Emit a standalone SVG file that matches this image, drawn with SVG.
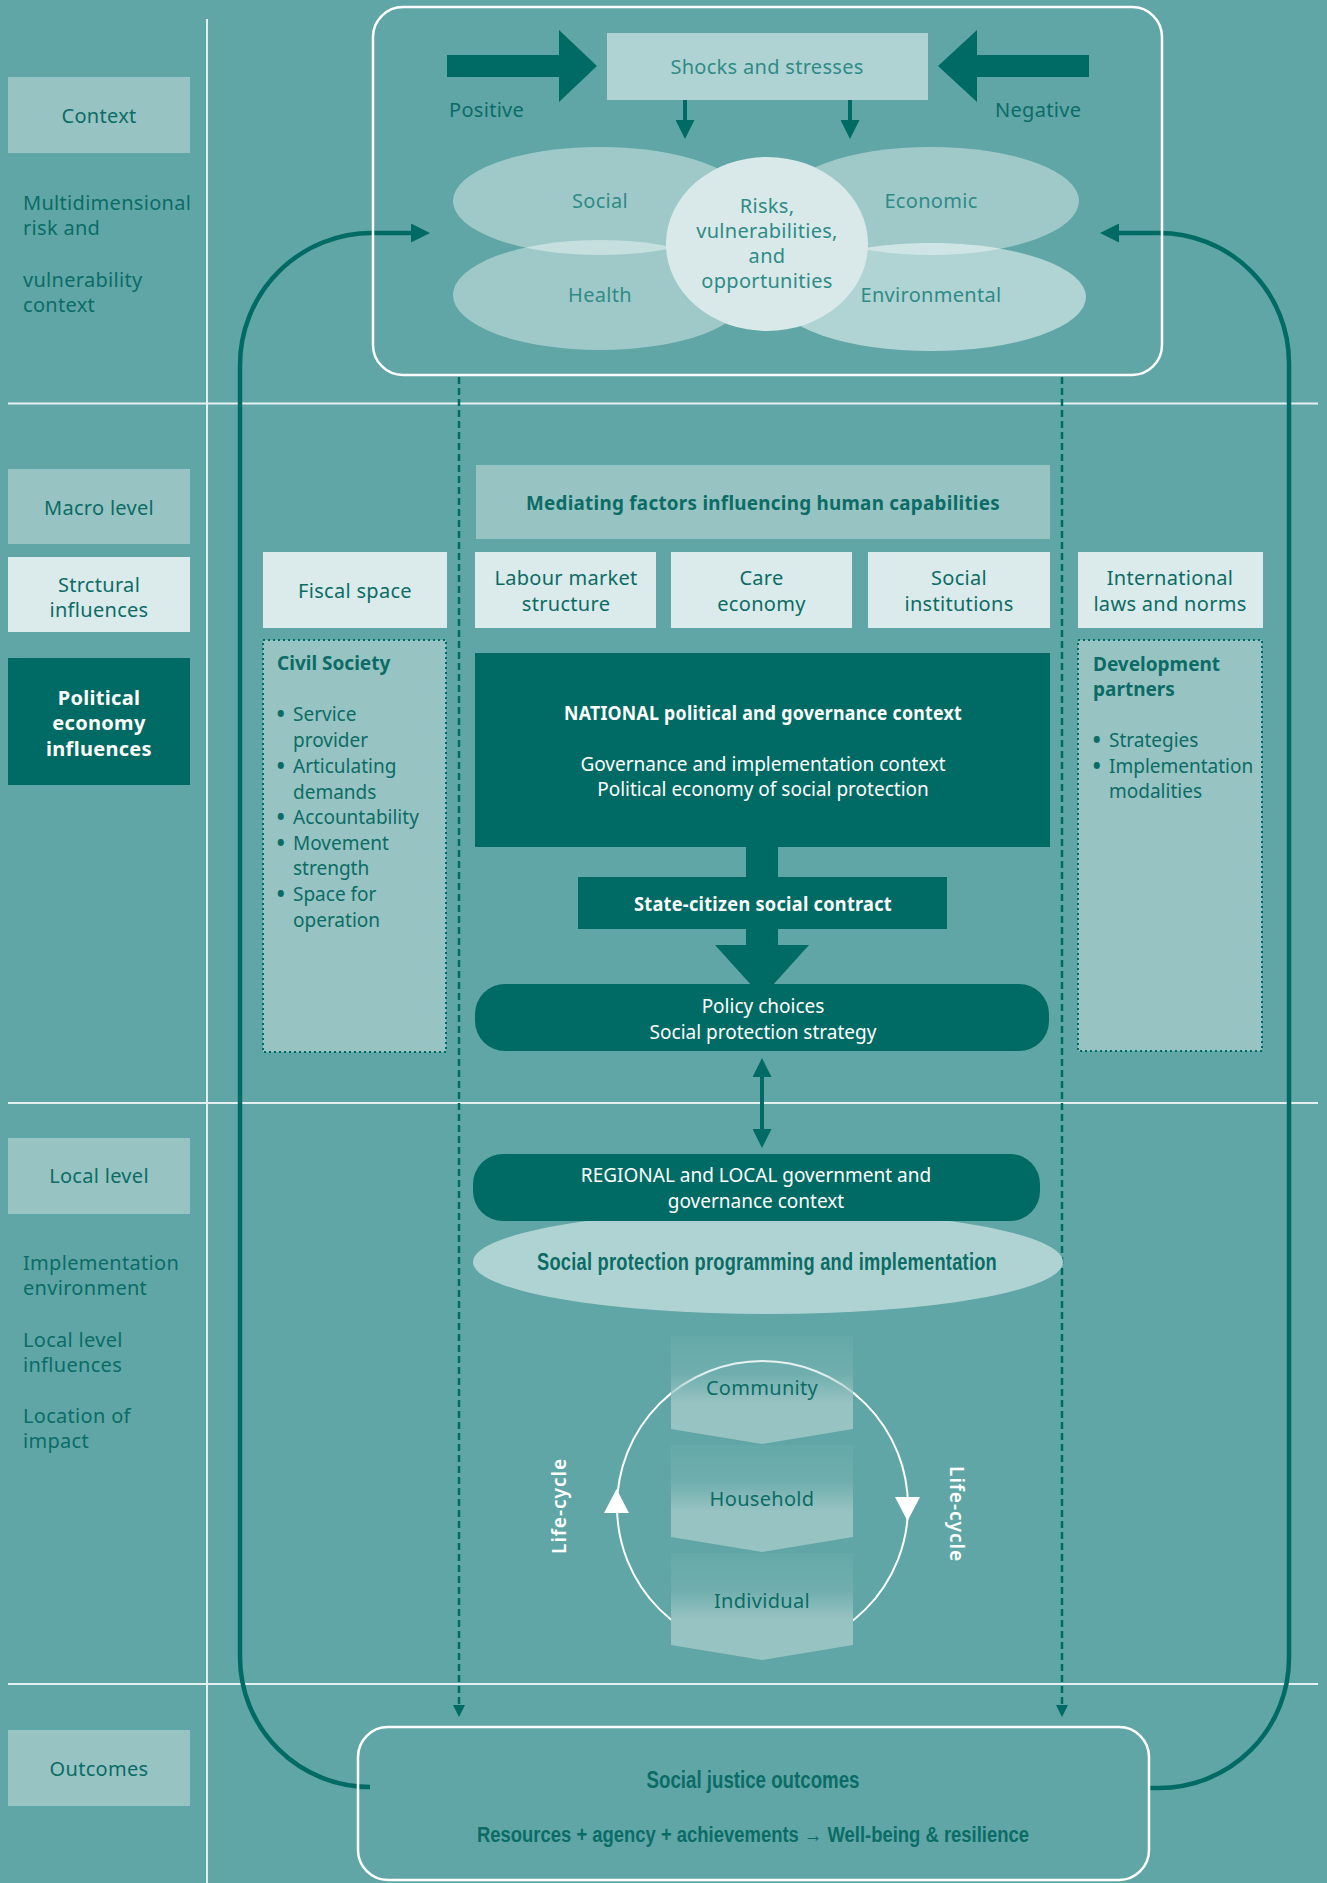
<svg xmlns="http://www.w3.org/2000/svg" width="1327" height="1883" viewBox="0 0 1327 1883">
<defs>
<style>
.t{font-family:"Noto Sans","Open Sans","DejaVu Sans",sans-serif;font-size:20px;letter-spacing:0.3px}
.s{font-size:19px;letter-spacing:0}
.dk{fill:#0b6c66}
.md{fill:#2f8b86}
.wh{fill:#ffffff}
.b{font-weight:bold}
.c{text-anchor:middle}
.bu{font-weight:900}
.n{font-family:"Liberation Sans",Arial,sans-serif;font-weight:bold;fill:#0b6c66;text-anchor:middle}
.lite{fill:#97c3c2}
.pale{fill:#dbeaea}
.dark{fill:#006b64}
.dots{fill:#97c3c2;stroke:#006b64;stroke-width:2;stroke-dasharray:2 3}
.sep{stroke:#e4efef;stroke-width:2}
.loop{fill:none;stroke:#006b64;stroke-width:4.5}
.dash{fill:none;stroke:#006b64;stroke-width:2.5;stroke-dasharray:7 4}
.solid{fill:none;stroke:#006b64;stroke-width:4}
.ell{fill:#ffffff}
</style>
<linearGradient id="chev" x1="0" y1="0" x2="0" y2="1">
<stop offset="0" stop-color="#97c3c2" stop-opacity="0.1"/>
<stop offset="0.35" stop-color="#97c3c2" stop-opacity="0.28"/>
<stop offset="0.62" stop-color="#97c3c2" stop-opacity="1"/>
<stop offset="1" stop-color="#97c3c2" stop-opacity="1"/>
</linearGradient>
<marker id="mA" viewBox="0 0 10 10" refX="0" refY="5" markerUnits="userSpaceOnUse" markerWidth="25" markerHeight="19" orient="auto-start-reverse"><path d="M0,0 L10,5 L0,10 z" fill="#006b64"/></marker>
<marker id="mD" viewBox="0 0 10 10" refX="0" refY="5" markerUnits="userSpaceOnUse" markerWidth="19" markerHeight="12" orient="auto"><path d="M0,0 L10,5 L0,10 z" fill="#006b64"/></marker>
</defs>

<rect x="0" y="0" width="1327" height="1883" fill="#60a6a6"/>

<g id="grid">
<line class="sep" x1="207" y1="19" x2="207" y2="1883"/>
<line class="sep" x1="8" y1="403.5" x2="1318" y2="403.5"/>
<line class="sep" x1="8" y1="1103" x2="1318" y2="1103"/>
<line class="sep" x1="8" y1="1684" x2="1318" y2="1684"/>
</g>

<g id="left-column" class="t">
<g id="context"><rect class="lite" x="8" y="77" width="182" height="76"/><text class="dk c" x="99" y="123">Context</text></g>
<text class="dk" x="23" y="210">Multidimensional</text>
<text class="dk" x="23" y="235">risk and</text>
<text class="dk" x="23" y="287">vulnerability</text>
<text class="dk" x="23" y="312">context</text>
<g id="macro"><rect class="lite" x="8" y="469" width="182" height="75"/><text class="dk c" x="99" y="515">Macro level</text></g>
<g id="structural"><rect class="pale" x="8" y="557" width="182" height="75"/><text class="dk c" x="99" y="592">Strctural</text><text class="dk c" x="99" y="617">influences</text></g>
<g id="political"><rect class="dark" x="8" y="658" width="182" height="127"/><text class="wh c b" x="99" y="705">Political</text><text class="wh c b" x="99" y="730">economy</text><text class="wh c b" x="99" y="756">influences</text></g>
<g id="local"><rect class="lite" x="8" y="1138" width="182" height="76"/><text class="dk c" x="99" y="1183">Local level</text></g>
<text class="dk" x="23" y="1270">Implementation</text>
<text class="dk" x="23" y="1295">environment</text>
<text class="dk" x="23" y="1347">Local level</text>
<text class="dk" x="23" y="1372">influences</text>
<text class="dk" x="23" y="1423">Location of</text>
<text class="dk" x="23" y="1448">impact</text>
<g id="outcomes-label"><rect class="lite" x="8" y="1730" width="182" height="76"/><text class="dk c" x="99" y="1776">Outcomes</text></g>
</g>

<g id="connectors">
<path class="loop" d="M358,1787 L370,1787 A130,130 0 0 1 240,1657 L240,365 A132,132 0 0 1 372,233 L411,233" marker-end="url(#mA)"/>
<path class="loop" d="M1149,1788 L1159,1788 A130,130 0 0 0 1289,1658 L1289,363 A130,130 0 0 0 1159,233 L1119,233" marker-end="url(#mA)"/>
<line class="dash" x1="459" y1="377" x2="459" y2="1705" marker-end="url(#mD)"/>
<line class="dash" x1="1062" y1="377" x2="1062" y2="1705" marker-end="url(#mD)"/>
<line class="solid" x1="685" y1="100" x2="685" y2="120" marker-end="url(#mA)"/>
<line class="solid" x1="850" y1="100" x2="850" y2="120" marker-end="url(#mA)"/>
<line class="solid" x1="762" y1="1077" x2="762" y2="1129" marker-start="url(#mA)" marker-end="url(#mA)"/>
<polygon class="dark" points="447,55 559,55 559,30 597,66 559,102 559,77 447,77"/>
<polygon class="dark" points="1089,55 977,55 977,30 938,66 977,102 977,77 1089,77"/>
<rect class="dark" x="746" y="845" width="32" height="34"/>
<rect class="dark" x="746" y="927" width="32" height="20"/>
<polygon class="dark" points="715,945 809,945 762,997"/>
</g>

<g id="context-box" class="t">
<rect x="373" y="7" width="789" height="368" rx="30" fill="none" stroke="#ffffff" stroke-width="2.5"/>
<g id="shocks"><rect x="607" y="33" width="321" height="67" fill="#afd3d2"/><text class="md c" x="767" y="74">Shocks and stresses</text></g>
<text class="dk" x="449" y="117">Positive</text>
<text class="dk" x="995" y="117">Negative</text>
<g id="social"><ellipse class="ell" cx="600" cy="201" rx="147" ry="54" opacity="0.4"/></g>
<g id="health"><ellipse class="ell" cx="600" cy="295" rx="147" ry="55" opacity="0.4"/></g>
<g id="economic"><ellipse class="ell" cx="931" cy="201" rx="148" ry="54" opacity="0.4"/></g>
<g id="environmental"><ellipse class="ell" cx="931" cy="297" rx="155" ry="54" opacity="0.5"/></g>
<text class="md c" x="600" y="208">Social</text>
<text class="md c" x="600" y="302">Health</text>
<text class="md c" x="931" y="208">Economic</text>
<text class="md c" x="931" y="302">Environmental</text>
<g id="risks"><ellipse cx="767" cy="244" rx="101" ry="87" fill="#d9e9e9"/>
<text class="md c" x="767" y="213">Risks,</text>
<text class="md c" x="767" y="238">vulnerabilities,</text>
<text class="md c" x="767" y="263">and</text>
<text class="md c" x="767" y="288">opportunities</text></g>
</g>

<g id="macro-level" class="t">
<g id="mediating"><rect class="lite" x="476" y="465" width="574" height="74"/><text class="dk c b" x="763" y="510" textLength="474" lengthAdjust="spacingAndGlyphs">Mediating factors influencing human capabilities</text></g>
<g id="fiscal"><rect class="pale" x="263" y="552" width="184" height="76"/><text class="dk c" x="355" y="598">Fiscal space</text></g>
<g id="labour"><rect class="pale" x="475" y="552" width="181" height="76"/><text class="dk c" x="566" y="585">Labour market</text><text class="dk c" x="566" y="611">structure</text></g>
<g id="care"><rect class="pale" x="671" y="552" width="181" height="76"/><text class="dk c" x="761.5" y="585">Care</text><text class="dk c" x="761.5" y="611">economy</text></g>
<g id="institutions"><rect class="pale" x="868" y="552" width="182" height="76"/><text class="dk c" x="959" y="585">Social</text><text class="dk c" x="959" y="611">institutions</text></g>
<g id="international"><rect class="pale" x="1078" y="552" width="185" height="76"/><text class="dk c" x="1170" y="585">International</text><text class="dk c" x="1170" y="611">laws and norms</text></g>
<g id="civil-society"><rect class="dots" x="263" y="640" width="183" height="412"/>
<text class="dk b s" x="277" y="670">Civil Society</text>
<text class="dk s" x="277" y="721"><tspan class="bu">•</tspan><tspan x="293">Service</tspan></text>
<text class="dk s" x="293" y="747">provider</text>
<text class="dk s" x="277" y="773"><tspan class="bu">•</tspan><tspan x="293">Articulating</tspan></text>
<text class="dk s" x="293" y="799">demands</text>
<text class="dk s" x="277" y="824"><tspan class="bu">•</tspan><tspan x="293">Accountability</tspan></text>
<text class="dk s" x="277" y="850"><tspan class="bu">•</tspan><tspan x="293">Movement</tspan></text>
<text class="dk s" x="293" y="875">strength</text>
<text class="dk s" x="277" y="901"><tspan class="bu">•</tspan><tspan x="293">Space for</tspan></text>
<text class="dk s" x="293" y="927">operation</text></g>
<g id="development-partners"><rect class="dots" x="1078" y="640" width="184" height="411"/>
<text class="dk b s" x="1093" y="671">Development</text>
<text class="dk b s" x="1093" y="696">partners</text>
<text class="dk s" x="1093" y="747"><tspan class="bu">•</tspan><tspan x="1109">Strategies</tspan></text>
<text class="dk s" x="1093" y="773"><tspan class="bu">•</tspan><tspan x="1109">Implementation</tspan></text>
<text class="dk s" x="1109" y="798">modalities</text></g>
<g id="national"><rect class="dark" x="475" y="653" width="575" height="194"/>
<text class="wh c b" x="763" y="720" textLength="398" lengthAdjust="spacingAndGlyphs">NATIONAL political and governance context</text>
<text class="wh c s" x="763" y="771">Governance and implementation context</text>
<text class="wh c s" x="763" y="796">Political economy of social protection</text></g>
<g id="state-citizen"><rect class="dark" x="578" y="877" width="369" height="52"/><text class="wh c b" x="763" y="911" textLength="258" lengthAdjust="spacingAndGlyphs">State-citizen social contract</text></g>
<g id="policy"><rect class="dark" x="475" y="984" width="574" height="67" rx="30"/><text class="wh c s" x="763" y="1013">Policy choices</text><text class="wh c s" x="763" y="1039">Social protection strategy</text></g>
</g>

<g id="local-level" class="t">
<g id="sp-programming"><ellipse cx="768" cy="1262" rx="295" ry="52" fill="#afd3d2"/><text class="n" x="767" y="1270" font-size="23" textLength="460" lengthAdjust="spacingAndGlyphs">Social protection programming and implementation</text></g>
<g id="regional"><rect class="dark" x="473" y="1154" width="567" height="67" rx="30"/><text class="wh c s" x="756" y="1182">REGIONAL and LOCAL government and</text><text class="wh c s" x="756" y="1208">governance context</text></g>
<g id="lifecycle">
<circle cx="762.5" cy="1506.5" r="145.5" fill="none" stroke="#ffffff" stroke-width="2"/>
<polygon fill="#ffffff" points="604,1513 629,1513 616.5,1489"/>
<polygon fill="#ffffff" points="895,1497 920,1497 907.5,1521"/>
<text class="wh c" font-weight="600" font-size="19" letter-spacing="1" transform="translate(566,1506) rotate(-90)">Life-cycle</text>
<text class="wh c" font-weight="600" font-size="19" letter-spacing="1" transform="translate(950,1514) rotate(90)">Life-cycle</text>
</g>
<g id="community"><polygon fill="url(#chev)" points="671,1336 853,1336 853,1429 762,1444 671,1429"/><text class="dk c" x="762" y="1395">Community</text></g>
<g id="household"><polygon fill="url(#chev)" points="671,1445 853,1445 853,1537 762,1552 671,1537"/><text class="dk c" x="762" y="1506">Household</text></g>
<g id="individual"><polygon fill="url(#chev)" points="671,1553 853,1553 853,1645 762,1660 671,1645"/><text class="dk c" x="762" y="1608">Individual</text></g>
</g>

<g id="outcomes">
<rect x="358" y="1727" width="791" height="153" rx="30" fill="none" stroke="#ffffff" stroke-width="2.5"/>
<text class="n" x="753" y="1788" font-size="23" textLength="213" lengthAdjust="spacingAndGlyphs">Social justice outcomes</text>
<text class="n" x="753" y="1842" font-size="22" textLength="552" lengthAdjust="spacingAndGlyphs">Resources + agency + achievements → Well-being &amp; resilience</text>
</g>
</svg>
